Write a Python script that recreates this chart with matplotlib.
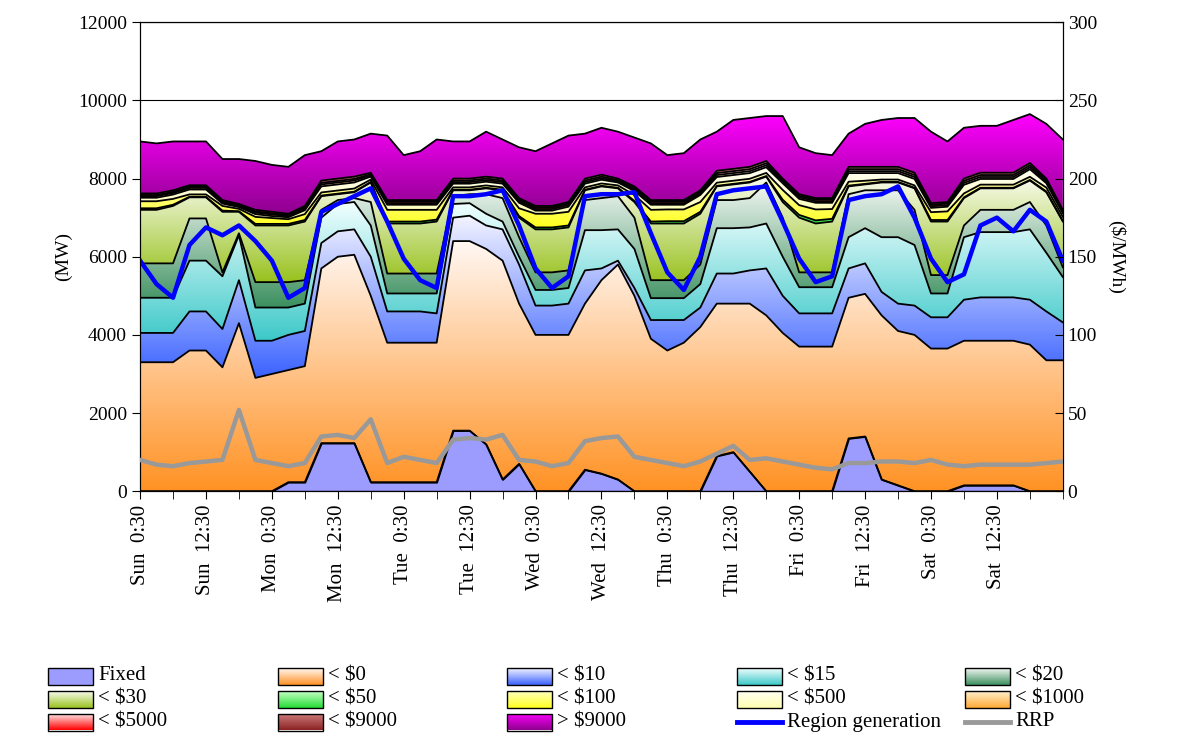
import numpy as np
import matplotlib
matplotlib.use("Agg")
import matplotlib.pyplot as plt
from matplotlib.colors import LinearSegmentedColormap
from matplotlib.patches import Rectangle
from matplotlib.lines import Line2D

plt.rcParams['font.family'] = ['Liberation Serif', 'DejaVu Serif']
plt.rcParams['font.size'] = 14

# 3-hourly samples starting Sun 0:30
hrs = np.arange(0, 169, 3)

fixed = [0, 0, 0, 0, 0, 0, 0, 0, 0, 230, 230, 1230, 1230, 1230, 230, 230, 230, 230, 230, 1550,
         1550, 1200, 300, 700, 0, 0, 0, 550, 450, 300, 0, 0, 0, 0, 0, 900, 1000, 500, 0, 0,
         0, 0, 0, 1350, 1400, 300, 150, 0, 0, 0, 150, 150, 150, 150, 0, 0, 0]
lt0 = [3300, 3300, 3300, 3600, 3600, 3170, 4300, 2900, 3000, 3100, 3200, 5700, 6000, 6050, 5000, 3800, 3800, 3800, 3800, 6400,
       6400, 6200, 5900, 4800, 4000, 4000, 4000, 4800, 5400, 5800, 5000, 3900, 3600, 3800, 4200, 4800, 4800, 4800, 4500, 4050,
       3700, 3700, 3700, 4950, 5050, 4500, 4100, 4000, 3650, 3650, 3850, 3850, 3850, 3850, 3750, 3350, 3350]
lt10 = [4050, 4050, 4050, 4600, 4600, 4150, 5400, 3850, 3850, 4000, 4100, 6350, 6650, 6700, 6000, 4600, 4600, 4600, 4550, 7000,
        7050, 6800, 6700, 5800, 4750, 4750, 4800, 5650, 5700, 5900, 5200, 4380, 4380, 4380, 4700, 5570, 5570, 5650, 5700, 5000,
        4550, 4550, 4550, 5700, 5830, 5100, 4800, 4750, 4450, 4450, 4900, 4960, 4960, 4960, 4900, 4600, 4320]
lt15 = [4950, 4950, 4950, 5900, 5900, 5500, 6550, 4700, 4700, 4700, 4800, 7000, 7350, 7400, 6800, 5060, 5060, 5060, 5060, 7350,
        7370, 7100, 6900, 6000, 5150, 5150, 5200, 6680, 6680, 6700, 6200, 4940, 4940, 4940, 5300, 6730, 6730, 6750, 6850, 6000,
        5220, 5220, 5220, 6500, 6730, 6500, 6500, 6300, 5060, 5060, 6500, 6630, 6630, 6630, 6700, 6100, 5480]
lt20 = [5830, 5830, 5830, 6980, 6980, 5600, 6600, 5350, 5350, 5350, 5400, 7200, 7450, 7500, 7400, 5570, 5570, 5570, 5570, 7550,
        7600, 7600, 7500, 6500, 5600, 5600, 5650, 7450, 7500, 7550, 7000, 5400, 5400, 5400, 5800, 7450, 7450, 7500, 7900, 7000,
        5600, 5600, 5600, 7600, 7700, 7700, 7700, 7200, 5530, 5530, 6800, 7200, 7200, 7200, 7400, 6800, 5730]
lt30 = [7200, 7200, 7300, 7520, 7520, 7150, 7150, 6800, 6800, 6800, 6900, 7550, 7600, 7650, 7900, 6850, 6850, 6850, 6900, 7700,
        7700, 7750, 7700, 7000, 6700, 6700, 6750, 7700, 7800, 7750, 7400, 6850, 6850, 6850, 7100, 7800, 7850, 7900, 8050, 7400,
        7000, 6850, 6900, 7800, 7850, 7900, 7900, 7750, 6900, 6900, 7500, 7750, 7750, 7750, 7950, 7650, 6900]
d50 = [40, 40, 30, 15, 15, 30, 15, 40, 40, 40, 40, 15, 15, 15, 15, 50, 50, 50, 50, 15,
       15, 15, 15, 40, 50, 50, 50, 15, 15, 15, 30, 50, 60, 60, 50, 15, 15, 15, 15, 60,
       70, 80, 70, 20, 15, 15, 15, 15, 40, 40, 20, 15, 15, 15, 15, 20, 20]
d100 = [180, 180, 150, 60, 60, 120, 60, 180, 150, 120, 150, 80, 80, 80, 60, 300, 300, 300, 250, 60,
        60, 60, 60, 200, 350, 350, 350, 60, 60, 60, 150, 300, 300, 300, 250, 80, 80, 80, 80, 250,
        250, 280, 250, 100, 80, 60, 60, 60, 200, 220, 100, 80, 80, 80, 80, 100, 100]
d1000 = [40, 40, 40, 40, 40, 30, 30, 40, 40, 30, 40, 50, 50, 50, 30, 40, 40, 40, 40, 40,
         40, 40, 40, 40, 40, 40, 40, 40, 40, 30, 40, 40, 40, 40, 40, 50, 50, 50, 50, 40,
         40, 40, 40, 50, 50, 50, 50, 50, 40, 40, 50, 50, 50, 50, 50, 40, 30]
d5000 = [30, 30, 30, 30, 30, 30, 20, 30, 30, 30, 30, 40, 40, 40, 30, 40, 40, 40, 40, 40,
         40, 40, 40, 40, 40, 40, 40, 40, 40, 30, 40, 40, 40, 40, 40, 50, 50, 50, 50, 40,
         40, 40, 40, 50, 50, 50, 50, 50, 40, 40, 50, 50, 50, 50, 50, 40, 30]
d9000 = [40, 40, 40, 40, 40, 30, 30, 40, 40, 30, 40, 60, 60, 60, 40, 40, 40, 40, 40, 50,
         50, 50, 50, 40, 40, 40, 40, 50, 50, 40, 40, 40, 40, 40, 40, 60, 60, 60, 60, 40,
         40, 40, 40, 60, 60, 60, 60, 60, 40, 40, 60, 60, 60, 60, 60, 40, 30]
purple_bottom = [7620, 7620, 7700, 7830, 7830, 7450, 7350, 7200, 7150, 7100, 7300, 7950, 8000, 8050, 8150, 7450, 7450, 7450, 7450, 8000,
                 8000, 8050, 8000, 7500, 7300, 7300, 7400, 8000, 8100, 8000, 7800, 7450, 7450, 7450, 7700, 8200, 8250, 8300, 8450, 8000,
                 7600, 7500, 7500, 8300, 8300, 8300, 8300, 8150, 7370, 7400, 8000, 8150, 8150, 8150, 8400, 8000, 7200]
top_all = [8950, 8900, 8950, 8950, 8950, 8500, 8500, 8450, 8350, 8300, 8600, 8700, 8950, 9000, 9150, 9100, 8600, 8700, 9000, 8950,
           8950, 9200, 9000, 8800, 8700, 8900, 9100, 9150, 9300, 9200, 9050, 8900, 8600, 8650, 9000, 9200, 9500, 9550, 9600, 9600,
           8800, 8650, 8600, 9150, 9400, 9500, 9550, 9550, 9200, 8950, 9300, 9350, 9350, 9500, 9650, 9400, 9000]
region_gen = [5900, 5300, 4950, 6300, 6750, 6550, 6800, 6400, 5900, 4950, 5200, 7150, 7350, 7550, 7750, 6900, 5950, 5400, 5200, 7550,
              7550, 7600, 7700, 6800, 5700, 5200, 5500, 7550, 7600, 7600, 7650, 6600, 5600, 5150, 6000, 7600, 7700, 7750, 7800, 6900,
              5950, 5350, 5500, 7450, 7550, 7600, 7800, 7000, 5950, 5350, 5550, 6800, 7000, 6650, 7200, 6900, 5900]
rrp = [20, 17, 16, 18, 19, 20, 52, 20, 18, 16, 18, 35, 36, 34, 46, 18, 22, 20, 18, 33,
       34, 33, 36, 20, 19, 16, 18, 32, 34, 35, 22, 20, 18, 16, 19, 24, 29, 20, 21, 19,
       17, 15, 14, 18, 18, 19, 19, 18, 20, 17, 16, 17, 17, 17, 17, 18, 19]

days = ['Sun', 'Mon', 'Tue', 'Wed', 'Thu', 'Fri', 'Sat']
tick_labels = []
for d in days:
    tick_labels += [d + '  0:30', d + '  12:30']

band_names = ['< $0', '< $10', '< $15', '< $20', '< $30', '< $50', '< $100',
              '< $500', '< $1000', '< $5000', '< $9000', '> $9000']
# (bottom colour, top colour)
band_colors = [('#FF9224', '#FFF8F4'), ('#3A62FF', '#F4F4FF'), ('#3CC8C8', '#F2FFFF'),
               ('#3A8F5E', '#F4F8F4'), ('#98C21E', '#FAFCF0'), ('#22DD33', '#C8FFC8'),
               ('#FFFF20', '#FFFFC0'), ('#FFFFB0', '#FFFFF4'), ('#FFAA33', '#FFF0D0'),
               ('#FF0000', '#FFF0F0'), ('#8B2222', '#D08080'), ('#8E008E', '#FF00FF')]

a = lambda v: np.array(v, dtype=float)
t30 = a(lt30)
t50 = t30 + a(d50)
t100 = t50 + a(d100)
t9000 = a(purple_bottom)
t5000 = t9000 - a(d9000)
t1000 = t5000 - a(d5000)
t500 = t1000 - a(d1000)
bounds = [a(fixed), a(lt0), a(lt10), a(lt15), a(lt20), t30, t50, t100, t500, t1000, t5000, t9000, a(top_all)]

W, H = 1177, 742
fig = plt.figure(figsize=(W / 100, H / 100), dpi=100)
ax = fig.add_axes([0.119, 0.338, 0.784, 0.632])

for yv in range(2000, 12001, 2000):
    ax.axhline(yv, color='black', lw=0.8, zorder=0)

ax.fill_between(hrs, 0, bounds[0], facecolor='#9C9CFF', edgecolor='black', lw=1.2, zorder=2)

grad = np.linspace(0, 1, 256).reshape(-1, 1)
for i in range(12):
    lo, hi = bounds[i], bounds[i + 1]
    poly = ax.fill_between(hrs, lo, hi, facecolor='none', edgecolor='none', zorder=1)
    cmap = LinearSegmentedColormap.from_list('b%d' % i, band_colors[i])
    im = ax.imshow(grad, cmap=cmap, aspect='auto', origin='lower',
                   extent=[0, 168, lo.min(), hi.max()], zorder=1, interpolation='bilinear')
    im.set_clip_path(poly.get_paths()[0], ax.transData)
    ax.plot(hrs, hi, color='black', lw=1.3, zorder=3)
ax.plot(hrs, bounds[0], color='black', lw=1.3, zorder=3)

ax.plot(hrs, region_gen, color='#0000FF', lw=3.2, zorder=5)

ax.set_xlim(0, 168)
ax.set_ylim(0, 12000)
ax.set_yticks(range(0, 12001, 2000))
ax.set_xticks(np.arange(0, 168, 12))
ax.set_xticklabels(tick_labels, rotation=90, fontsize=15)
ax.set_xticks(np.arange(0, 169, 6), minor=True)
ax.tick_params(axis='x', which='both', direction='out', length=6)
ax.tick_params(axis='y', direction='out', length=6)
ax.set_ylabel('(MW)')

ax2 = ax.twinx()
ax2.plot(hrs, rrp, color='#999999', lw=3.2, zorder=6)
ax2.set_ylim(0, 300)
ax2.set_yticks(range(0, 301, 50))
ax2.tick_params(axis='y', direction='in', length=6)
ax2.set_ylabel('($/MWh)', rotation=270, labelpad=20)

# legend drawn by hand on a fixed grid, read across rows
entries = [('Fixed', '#9C9CFF', 'patch')]
for n, c in zip(band_names, band_colors):
    entries.append((n, c, 'grad'))
entries.append(('Region generation', '#0000FF', 'line'))
entries.append(('RRP', '#999999', 'line'))
col_x = [48, 278, 507, 737, 965]
row_y = [676, 699, 722]
for k, (name, col, kind) in enumerate(entries):
    x0 = col_x[k % 5]
    yc = row_y[k // 5]
    if kind == 'line':
        fig.add_artist(Line2D([x0 / W, (x0 + 45) / W], [1 - yc / H, 1 - yc / H],
                              color=col, lw=3.5, transform=fig.transFigure))
    else:
        if kind == 'grad':
            lax = fig.add_axes([x0 / W, 1 - (yc + 8.5) / H, 45 / W, 17 / H])
            lax.imshow(grad, cmap=LinearSegmentedColormap.from_list('l%d' % k, col),
                       aspect='auto', origin='lower', extent=[0, 1, 0, 1])
            lax.set_axis_off()
        fig.add_artist(Rectangle((x0 / W, 1 - (yc + 8.5) / H), 45 / W, 17 / H,
                                 facecolor=col if kind == 'patch' else 'none',
                                 edgecolor='black', lw=1, transform=fig.transFigure))
    fig.text((x0 + 50) / W, 1 - yc / H, name, fontsize=15, va='center', ha='left')

fig.savefig('out.png', dpi=100)
